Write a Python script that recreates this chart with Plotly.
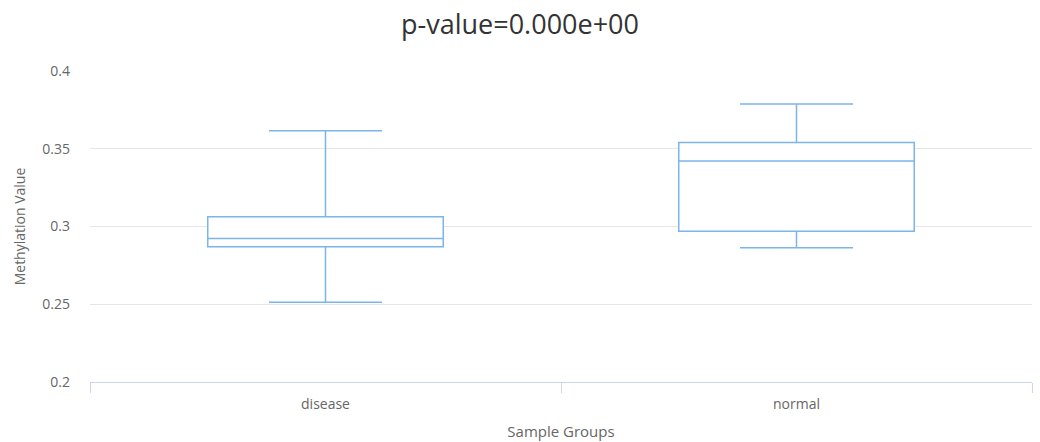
import plotly.graph_objects as go

groups = ["disease", "normal"]
lower_whisker = [0.2513, 0.2863]
q1_vals = [0.2870, 0.2970]
median_vals = [0.2923, 0.3421]
q3_vals = [0.3063, 0.3540]
upper_whisker = [0.3615, 0.3787]

y_ticks = [0.2, 0.25, 0.3, 0.35, 0.4]
y_tick_labels = ["0.2", "0.25", "0.3", "0.35", "0.4"]

color = "#7cb5ec"
font_family = "Open Sans, Noto Sans, sans-serif"

fig = go.Figure()
fig.add_trace(go.Box(
    x=groups,
    q1=q1_vals,
    median=median_vals,
    q3=q3_vals,
    lowerfence=lower_whisker,
    upperfence=upper_whisker,
    fillcolor="rgba(255,255,255,1)",
    line=dict(color=color, width=1.5),
    width=0.5,
    whiskerwidth=0.48,
    boxpoints=False,
    hoverinfo="y",
    showlegend=False,
))

fig.update_layout(
    width=1040, height=442,
    margin=dict(l=90, r=8, t=71, b=60, autoexpand=False),
    plot_bgcolor="white", paper_bgcolor="white",
    font=dict(family=font_family, color="#666666", size=14),
    title=dict(text="p-value=0.000e+00", x=0.5, xanchor="center",
               y=1 - 25 / 442, yanchor="middle", yref="container",
               font=dict(size=27, color="#333333", family=font_family)),
    xaxis=dict(
        type="category",
        range=[-0.5, 1.5],
        automargin=False,
        title=dict(text="Sample Groups", font=dict(size=15, color="#666666"), standoff=14),
        showline=True, linecolor="#ccd6eb", linewidth=1,
        ticks="outside", tickson="boundaries", ticklen=10, tickcolor="#ccd6eb",
        ticklabelstandoff=9,
        showgrid=False, zeroline=False,
        tickfont=dict(size=14, color="#666666"),
    ),
    yaxis=dict(
        range=[0.2, 0.4],
        automargin=False,
        tickvals=y_ticks, ticktext=y_tick_labels,
        title=dict(text="Methylation Value", font=dict(size=14, color="#666666"), standoff=13),
        showgrid=True, gridcolor="#e6e6e6", gridwidth=1,
        zeroline=False, showline=False,
        ticklabelstandoff=19,
        tickfont=dict(size=14, color="#666666"),
    ),
)

fig.write_html("out.html", config={"displayModeBar": False},
               post_script="document.body.style.margin='0';")
